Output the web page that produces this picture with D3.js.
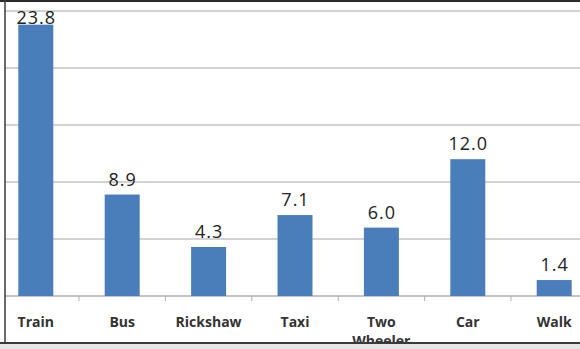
<!DOCTYPE html>
<html>
<head>
<meta charset="utf-8">
<script src="https://cdnjs.cloudflare.com/ajax/libs/d3/7.8.5/d3.min.js"></script>
<style>
  html, body { margin: 0; padding: 0; background: #fff; }
  svg { display: block; }
</style>
</head>
<body>
<div id="chart"></div>
<script>
// data
var modes = ["Train", "Bus", "Rickshaw", "Taxi", "Two Wheeler", "Car", "Walk"];
var shares = [23.8, 8.9, 4.3, 7.1, 6.0, 12.0, 1.4];
var gridValues = [0, 5, 10, 15, 20, 25];

var W = 580, H = 349;

var svg = d3.select("#chart")
  .append("svg")
  .attr("width", W)
  .attr("height", H);

// x scale: the plot is wider than the picture, it gets cut on both sides
var x = d3.scaleBand()
  .domain(modes)
  .range([-7.4, 597.4])
  .padding(0);

var y = d3.scaleLinear()
  .domain([0, 25])
  .range([296, 11]);

// gridlines
svg.append("g")
  .selectAll("line")
  .data(gridValues)
  .enter()
  .append("line")
    .attr("x1", 5)
    .attr("x2", W)
    .attr("y1", function(d) { return y(d) })
    .attr("y2", function(d) { return y(d) })
    .style("stroke", function(d) { return d == 0 ? "#b0b0b0" : "#c4c4c4" })
    .style("stroke-width", 1.5);

// small tick marks between categories
svg.append("g")
  .selectAll("line")
  .data(modes.slice(1))
  .enter()
  .append("line")
    .attr("x1", function(d) { return x(d) })
    .attr("x2", function(d) { return x(d) })
    .attr("y1", y(0))
    .attr("y2", y(0) + 5)
    .style("stroke", "#b0b0b0")
    .style("stroke-width", 1);

// bars
var barW = x.bandwidth() * 0.405;
svg.append("g")
  .selectAll("rect")
  .data(modes)
  .enter()
  .append("rect")
    .attr("x", function(d) { return x(d) + x.bandwidth() / 2 - barW / 2 })
    .attr("y", function(d, i) { return y(shares[i]) })
    .attr("width", barW)
    .attr("height", function(d, i) { return y(0) - y(shares[i]) })
    .style("fill", "#4a7ebb");

// value labels (kept inside the plot, like excel does for the tall bar)
svg.append("g")
  .selectAll("text")
  .data(modes)
  .enter()
  .append("text")
    .attr("x", function(d) { return x(d) + x.bandwidth() / 2 + 0.5 })
    .attr("y", function(d, i) { return Math.max(y(shares[i]) - 9, 24) })
    .attr("text-anchor", "middle")
    .style("font-family", "'Open Sans', sans-serif")
    .style("font-size", "18px")
    .style("letter-spacing", "1px")
    .style("fill", "#222")
    .text(function(d, i) { return shares[i].toFixed(1) });

// category labels
var cat = svg.append("g")
  .selectAll("text")
  .data(modes)
  .enter()
  .append("text")
    .attr("text-anchor", "middle")
    .attr("y", 327)
    .style("font-family", "'Open Sans', sans-serif")
    .style("font-weight", "bold")
    .style("font-size", "14px")
    .style("fill", "#333");

cat.each(function(d) {
  var words = d.split(" ");
  var t = d3.select(this);
  var cx = x(d) + x.bandwidth() / 2;
  words.forEach(function(w, k) {
    t.append("tspan")
      .attr("x", cx)
      .attr("dy", k == 0 ? 0 : 19)
      .text(w);
  });
});

// frame of the cropped picture
svg.append("rect")
  .attr("x", 0).attr("y", 343)
  .attr("width", W).attr("height", H - 343)
  .style("fill", "#e6e6e6");
svg.append("line")
  .attr("x1", 0).attr("x2", W).attr("y1", 343).attr("y2", 343)
  .style("stroke", "#3a3a3a").style("stroke-width", 2);
svg.append("line")
  .attr("x1", 0).attr("x2", W).attr("y1", 1).attr("y2", 1)
  .style("stroke", "#2a2a2a").style("stroke-width", 2);
svg.append("line")
  .attr("x1", 5).attr("x2", 5).attr("y1", 0).attr("y2", 343)
  .style("stroke", "#3a3a3a").style("stroke-width", 1.5);
</script>
</body>
</html>
